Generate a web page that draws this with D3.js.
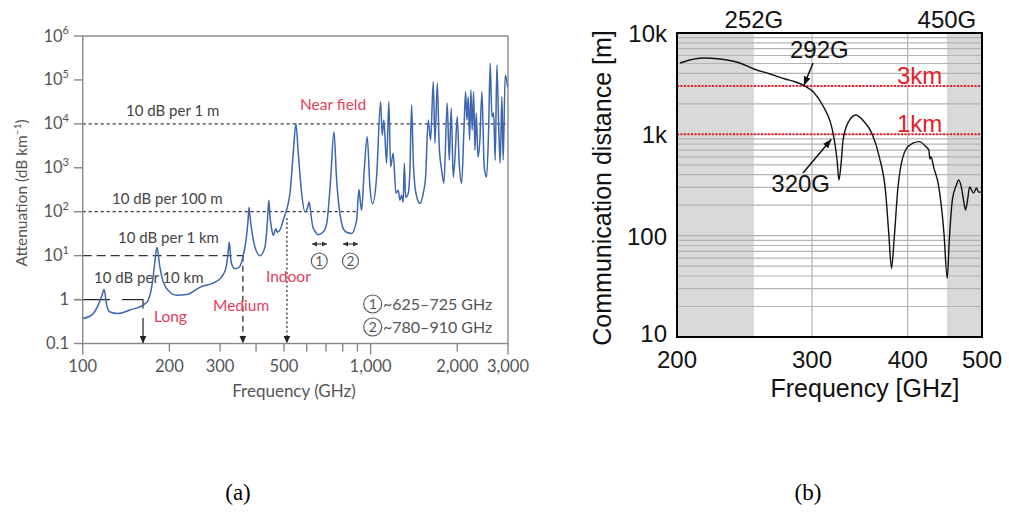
<!DOCTYPE html>
<html>
<head>
<meta charset="utf-8">
<script src="https://cdn.jsdelivr.net/npm/d3@7"></script>
<style>
  body { margin: 0; background: #fff; }
  svg { display: block; }
</style>
</head>
<body>
<div id="chart"></div>
<script>
// ---- (a) atmospheric attenuation ----
const atmFreq = [100, 107.7, 113, 116.5, 118.7, 121, 124.4, 132.6, 145.9, 162, 168.5, 174, 178, 181, 185.5, 190.5,
  201, 212, 229.6, 255, 288, 304, 315, 320, 323, 327, 331, 338, 350, 361, 369, 375, 378, 381, 386, 396.6, 412.7,
  429.5, 437.5, 443, 447, 452, 459, 469, 474, 486, 497, 517.5, 524.6, 538.6, 550.3, 560.6, 576, 591.5, 603, 612,
  620, 630, 645, 656, 683, 703.6, 726, 745.8, 762, 782.5, 805, 825.4, 859, 894, 910.9, 922, 930.6, 950, 973,
  994.5, 1016, 1049, 1083, 1097, 1112, 1136, 1157, 1173, 1198, 1224, 1247, 1264, 1282, 1298, 1309, 1323, 1351,
  1369, 1388, 1406, 1437, 1484, 1523, 1552, 1585, 1616, 1650, 1673, 1704, 1731, 1765, 1797, 1845, 1875, 1905,
  1936, 1967, 1999, 2031, 2070, 2109, 2137, 2160, 2182, 2207, 2230, 2253, 2279, 2303, 2327, 2359, 2396, 2435,
  2480, 2528, 2569, 2602, 2638, 2674, 2708, 2745, 2783, 2818, 2857, 2886, 2934, 2990];
const atmAtten = [0.37, 0.45, 0.73, 1.2, 1.7, 0.78, 0.52, 0.48, 0.58, 0.75, 0.95, 2.1, 7, 15.4, 5.4, 2.5,
  1.47, 1.25, 1.3, 1.9, 2.5, 3.3, 5.5, 12, 20.4, 8, 5.8, 5, 5.5, 10, 22, 60, 125, 80, 40, 15.6, 10,
  15.6, 53, 183, 80, 45, 29, 41, 34, 40, 64, 155, 263, 2150, 10000, 2150, 263, 98, 120, 167,
  90, 45, 34, 30, 34, 53, 520, 6600, 520, 90, 40, 34, 32, 64, 320, 160, 108, 880, 5100,
  370, 152, 620, 32000, 5550, 12200, 1270, 32000, 1050, 2150, 263, 308, 182, 237, 164, 1270, 213, 263,
  881, 26900, 1490, 263, 155, 263, 610, 12200, 4270, 91400, 3650, 85400, 3000, 881, 445, 29800, 1490, 22900,
  610, 2150, 14500, 1270, 445, 7220, 54000, 12200, 41600, 4270, 59100, 7220, 54000, 2520, 17600, 1770, 4270, 54000,
  1050, 610, 7220, 240000, 14500, 17600, 1490, 220000, 10400, 1270, 41600, 1490, 130000, 70300];

const atmTicksY = [0.1, 1, 10, 100, 1e3, 1e4, 1e5, 1e6];
const atmTicksX = [100, 200, 300, 500, 1000, 2000, 3000];
const atmMinorX = [400, 600, 700, 800, 900];
const refValues = [1, 10, 100, 10000];
const refLabels = ['10 dB per 10 km', '10 dB per 1 km', '10 dB per 100 m', '10 dB per 1 m'];
const regimeFreq = [162, 360, 512];
const regimeLabels = ['Long', 'Medium', 'Indoor', 'Near field'];
const bandLabels = ['~625\u2013725 GHz', '~780\u2013910 GHz'];

// ---- (b) communication distance ----
const distFreq = [201.8, 207.9, 216.2, 227.5, 241.5, 252, 264.5, 276.8, 285.7, 292.8, 301.3, 310.2, 317, 319.9,
  323.5, 325.3, 327.3, 329.4, 334.7, 342.3, 351.2, 359, 367.3, 374.4, 377.7, 381, 383.9, 388.5, 397.4, 406.3,
  413.9, 422.9, 426.2, 427.5, 429, 432.4, 439.2, 446, 450.4, 453.2, 457.4, 463, 466, 470.2, 473, 475.9, 478.8,
  481.7, 487.5, 491.9, 494.9, 499.3];
const distMeters = [5057, 5415, 5667, 5538, 5057, 4413, 3938, 3515, 3283, 3031, 2617, 1903, 1323, 1000,
  558, 354, 498, 879, 1323, 1550, 1323, 1030, 597, 263, 110, 47.5, 90, 302, 700, 820,
  848, 750, 700, 570, 600, 475, 302, 106, 38, 90, 225, 316, 354, 295, 225, 179, 225,
  302, 263, 295, 269, 269];
const distTicksY = [10, 100, 1000, 10000];
const distTickLabels = ['10', '100', '1k', '10k'];
const distTicksX = [200, 300, 400, 500];
const shadedBands = [[200, 252], [450, 500]];
const bandEdgeLabels = ['252G', '450G'];
const limitMeters = [3000, 1000];
const limitLabels = ['3km', '1km'];
const markFreq = ['292G', '320G'];

const svg = d3.select('#chart').append('svg')
    .attr('width', 1009)
    .attr('height', 512);

const defs = svg.append('defs');
const addMarker = (id, color, w, h, orient) => {
  defs.append('marker')
      .attr('id', id)
      .attr('viewBox', `0 0 ${w} ${h}`)
      .attr('refX', w)
      .attr('refY', h / 2)
      .attr('markerUnits', 'userSpaceOnUse')
      .attr('markerWidth', w)
      .attr('markerHeight', h)
      .attr('orient', orient)
    .append('path')
      .attr('d', `M0,0L${w},${h / 2}L0,${h}Z`)
      .attr('fill', color);
};
addMarker('arrA', '#222', 8, 7, 'auto');
addMarker('arrS', '#333', 5, 5, 'auto-start-reverse');
addMarker('arrB', '#111', 9, 7, 'auto');

// ================= panel (a) =================
const fontA = 'Lato, "Open Sans", sans-serif';
const grey = '#555';
const xA = d3.scaleLog().domain([100, 3000]).range([82.7, 508]);
const yA = d3.scaleLog().domain([0.1, 1e6]).range([343.5, 36]);

const gA = svg.append('g').style('font-family', fontA);

// reference lines
const refStyle = [
  { dash: null, x1: 74, x2: xA(regimeFreq[0]) },
  { dash: '9,5', x1: 82.7, x2: xA(regimeFreq[1]) },
  { dash: '3,3', x1: 82.7, x2: xA(894) },
  { dash: '3,3', x1: 82.7, x2: 508 },
];
const refText = [
  { x: 94, dy: -17 }, { x: 118, dy: -13 }, { x: 112, dy: -8 }, { x: 126, dy: -8 },
];
refValues.forEach((v, i) => {
  const s = refStyle[i];
  if (i === 0) {
    gA.append('line').attr('x1', 74).attr('x2', 110).attr('y1', yA(v)).attr('y2', yA(v))
        .attr('stroke', '#222').attr('stroke-width', 1.2);
    gA.append('line').attr('x1', 122).attr('x2', s.x2).attr('y1', yA(v)).attr('y2', yA(v))
        .attr('stroke', '#222').attr('stroke-width', 1.2);
  } else {
    gA.append('line').attr('x1', s.x1).attr('x2', s.x2).attr('y1', yA(v)).attr('y2', yA(v))
        .attr('stroke', '#333').attr('stroke-width', 1.2).attr('stroke-dasharray', s.dash);
  }
  gA.append('text')
      .attr('x', refText[i].x)
      .attr('y', yA(v) + refText[i].dy)
      .attr('font-size', 15)
      .attr('fill', '#444')
      .text(refLabels[i]);
});

// regime arrows
const xLong = xA(regimeFreq[0]);
gA.append('line').attr('x1', xLong).attr('x2', xLong).attr('y1', yA(1)).attr('y2', yA(1) + 9)
    .attr('stroke', '#222').attr('stroke-width', 1.2);
gA.append('line').attr('x1', xLong).attr('x2', xLong).attr('y1', 318).attr('y2', yA(0.1))
    .attr('stroke', '#222').attr('stroke-width', 1.2).attr('marker-end', 'url(#arrA)');
gA.append('line').attr('x1', xA(regimeFreq[1])).attr('x2', xA(regimeFreq[1]))
    .attr('y1', yA(10)).attr('y2', yA(0.1))
    .attr('stroke', '#222').attr('stroke-width', 1.2).attr('stroke-dasharray', '6,4')
    .attr('marker-end', 'url(#arrA)');
gA.append('line').attr('x1', xA(regimeFreq[2])).attr('x2', xA(regimeFreq[2]))
    .attr('y1', 218).attr('y2', yA(0.1))
    .attr('stroke', '#222').attr('stroke-width', 1.2).attr('stroke-dasharray', '2,2.5')
    .attr('marker-end', 'url(#arrA)');

const regimePos = [[154, 322], [213, 311], [266, 282], [300, 110]];
regimeLabels.forEach((t, i) => {
  gA.append('text')
      .attr('x', regimePos[i][0])
      .attr('y', regimePos[i][1])
      .attr('font-size', 15.5)
      .attr('fill', '#e4405c')
      .text(t);
});

// spectrum
const atmLine = d3.line()
    .x((d, i) => xA(atmFreq[i]))
    .y((d) => yA(d))
    .curve(d3.curveMonotoneX);
gA.append('path')
    .datum(atmAtten)
    .attr('d', atmLine)
    .attr('fill', 'none')
    .attr('stroke', '#3d65b0')
    .attr('stroke-width', 1.5)
    .attr('stroke-linejoin', 'round');

// frame
gA.append('rect')
    .attr('x', 82.7).attr('y', 36)
    .attr('width', 508 - 82.7).attr('height', yA(0.1) - 36)
    .attr('fill', 'none').attr('stroke', '#888').attr('stroke-width', 1.4);

// y ticks
atmTicksY.forEach((t) => {
  gA.append('line').attr('x1', 74).attr('x2', 82.7).attr('y1', yA(t)).attr('y2', yA(t))
      .attr('stroke', '#888').attr('stroke-width', 1.4);
  const txt = gA.append('text')
      .attr('x', 69)
      .attr('y', yA(t) + 5.5)
      .attr('text-anchor', 'end')
      .attr('font-size', 16.5)
      .attr('fill', grey);
  if (t >= 10) {
    txt.append('tspan').text('10');
    txt.append('tspan').attr('dy', -7.5).attr('font-size', 11).text(Math.round(Math.log10(t)));
  } else {
    txt.text(t === 1 ? '1' : '0.1');
  }
});

// x ticks
atmTicksX.concat(atmMinorX).forEach((t) => {
  const len = (t === 100 || t === 1000 || t === 3000) ? 11 : 8;
  gA.append('line').attr('x1', xA(t)).attr('x2', xA(t)).attr('y1', yA(0.1)).attr('y2', yA(0.1) + len)
      .attr('stroke', '#888').attr('stroke-width', 1.4);
});
atmTicksX.forEach((t) => {
  gA.append('text')
      .attr('x', xA(t))
      .attr('y', 372)
      .attr('text-anchor', 'middle')
      .attr('font-size', 16.5)
      .attr('fill', grey)
      .text(d3.format(',')(t));
});

gA.append('text')
    .attr('x', 294).attr('y', 397)
    .attr('text-anchor', 'middle')
    .attr('font-size', 17)
    .attr('fill', grey)
    .text('Frequency (GHz)');

const yLab = gA.append('text')
    .attr('transform', 'translate(27,193) rotate(-90)')
    .attr('text-anchor', 'middle')
    .attr('font-size', 15.5)
    .attr('fill', grey);
yLab.append('tspan').text('Attenuation (dB km');
yLab.append('tspan').attr('dy', -6).attr('font-size', 10).text('\u22121');
yLab.append('tspan').attr('dy', 6).text(')');

// band markers
const circled = (cx, cy, r, n, size) => {
  gA.append('circle').attr('cx', cx).attr('cy', cy).attr('r', r)
      .attr('fill', 'none').attr('stroke', grey).attr('stroke-width', 1.1);
  gA.append('text').attr('x', cx).attr('y', cy + size * 0.36)
      .attr('text-anchor', 'middle').attr('font-size', size).attr('fill', grey).text(n);
};
[[312, 327, 319.3], [343, 358, 350.5]].forEach((b, i) => {
  gA.append('line').attr('x1', b[0]).attr('x2', b[1]).attr('y1', 244).attr('y2', 244)
      .attr('stroke', '#333').attr('stroke-width', 1.1)
      .attr('marker-start', 'url(#arrS)').attr('marker-end', 'url(#arrS)');
  circled(b[2], 261, 8, i + 1, 13);
});
bandLabels.forEach((t, i) => {
  const cy = 304 + i * 23;
  circled(372.7, cy, 9, i + 1, 14);
  gA.append('text').attr('x', 383).attr('y', cy + 6)
      .attr('font-size', 16).attr('fill', grey).text(t);
});

// ================= panel (b) =================
const fontB = '"Liberation Sans", Arial, sans-serif';
const xB = d3.scaleLog().domain([200, 500]).range([677, 982]);
const yB = d3.scaleLog().domain([10, 10000]).range([337, 33]);
const gB = svg.append('g').style('font-family', fontB);

gB.selectAll('.band')
    .data(shadedBands)
  .enter()
    .append('rect')
    .attr('x', (d) => xB(d[0]))
    .attr('y', yB(10000))
    .attr('width', (d) => xB(d[1]) - xB(d[0]))
    .attr('height', yB(10) - yB(10000))
    .attr('fill', '#d9d9d9');

const minorY = [];
[10, 100, 1000].forEach((dec) => {
  for (let k = 1; k <= 9; k += 1) minorY.push(dec * k);
});
gB.selectAll('.hgrid')
    .data(minorY.filter((v) => v > 10))
  .enter()
    .append('line')
    .attr('x1', 677).attr('x2', 982)
    .attr('y1', (d) => yB(d)).attr('y2', (d) => yB(d))
    .attr('stroke', '#b3b3b3').attr('stroke-width', 1.2);
gB.selectAll('.vgrid')
    .data([300, 400])
  .enter()
    .append('line')
    .attr('x1', (d) => xB(d)).attr('x2', (d) => xB(d))
    .attr('y1', 33).attr('y2', 337)
    .attr('stroke', '#b3b3b3').attr('stroke-width', 1.2);

limitMeters.forEach((m, i) => {
  gB.append('line')
      .attr('x1', 677).attr('x2', 982)
      .attr('y1', yB(m)).attr('y2', yB(m))
      .attr('stroke', '#e8202a').attr('stroke-width', 2).attr('stroke-dasharray', '2,1.5');
  gB.append('text')
      .attr('x', 897).attr('y', yB(m) - 2)
      .attr('font-size', 24).attr('fill', '#e8202a')
      .text(limitLabels[i]);
});

const distLine = d3.line()
    .x((d, i) => xB(distFreq[i]))
    .y((d) => yB(d))
    .curve(d3.curveMonotoneX);
gB.append('path')
    .datum(distMeters)
    .attr('d', distLine)
    .attr('fill', 'none')
    .attr('stroke', '#111')
    .attr('stroke-width', 1.4);

gB.append('rect')
    .attr('x', 677).attr('y', 33)
    .attr('width', 982 - 677).attr('height', 337 - 33)
    .attr('fill', 'none').attr('stroke', '#000').attr('stroke-width', 2);

// annotations
gB.append('line').attr('x1', 813).attr('y1', 63).attr('x2', xB(292.8)).attr('y2', yB(3031))
    .attr('stroke', '#111').attr('stroke-width', 1.5).attr('marker-end', 'url(#arrB)');
gB.append('text').attr('x', 790).attr('y', 58).attr('font-size', 24).attr('fill', '#111').text(markFreq[0]);
gB.append('line').attr('x1', 803).attr('y1', 173).attr('x2', xB(319.9) - 2).attr('y2', yB(1000) + 5)
    .attr('stroke', '#111').attr('stroke-width', 1.5).attr('marker-end', 'url(#arrB)');
gB.append('text').attr('x', 830).attr('y', 192).attr('text-anchor', 'end')
    .attr('font-size', 24).attr('fill', '#111').text(markFreq[1]);

bandEdgeLabels.forEach((t, i) => {
  gB.append('text')
      .attr('x', xB(shadedBands[i][i === 0 ? 1 : 0]))
      .attr('y', 28)
      .attr('text-anchor', 'middle')
      .attr('font-size', 24).attr('fill', '#111')
      .text(t);
});

distTicksY.forEach((t, i) => {
  gB.append('text')
      .attr('x', 667)
      .attr('y', yB(t) + (t === 10 ? 5 : 9))
      .attr('text-anchor', 'end')
      .attr('font-size', 24).attr('fill', '#111')
      .text(distTickLabels[i]);
});
distTicksX.forEach((t) => {
  gB.append('text')
      .attr('x', xB(t))
      .attr('y', 368)
      .attr('text-anchor', 'middle')
      .attr('font-size', 24).attr('fill', '#111')
      .text(t);
});
gB.append('text')
    .attr('x', 865).attr('y', 397)
    .attr('text-anchor', 'middle')
    .attr('font-size', 25).attr('fill', '#111')
    .text('Frequency [GHz]');
gB.append('text')
    .attr('transform', 'translate(611,188) rotate(-90)')
    .attr('text-anchor', 'middle')
    .attr('font-size', 25).attr('fill', '#111')
    .text('Communication distance [m]');

// panel captions
[['(a)', 238], ['(b)', 808]].forEach((c) => {
  svg.append('text')
      .attr('x', c[1]).attr('y', 500)
      .attr('text-anchor', 'middle')
      .style('font-family', '"Liberation Serif", "Times New Roman", serif')
      .attr('font-size', 23)
      .attr('fill', '#000')
      .text(c[0]);
});
</script>
</body>
</html>
